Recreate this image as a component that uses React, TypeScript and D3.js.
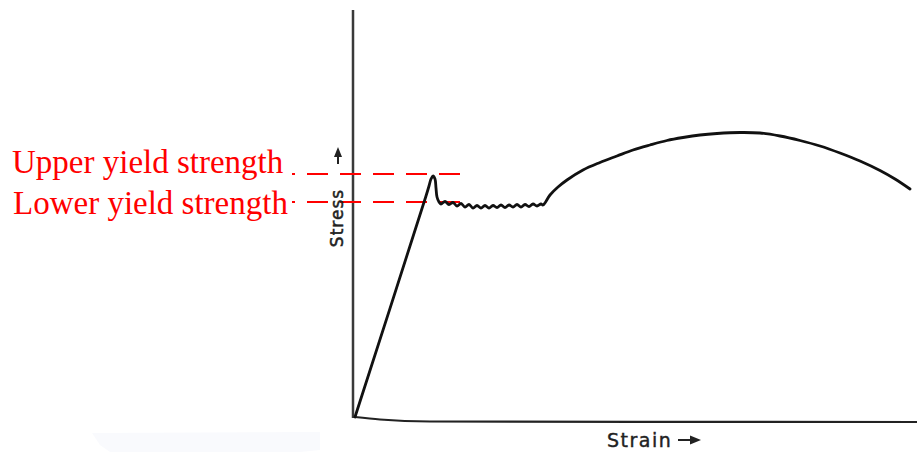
import { useMemo } from "react";
import * as d3 from "d3";

const WIDTH = 917;
const HEIGHT = 452;

// stress-strain curve (strain in %, stress in MPa)
const curveStrain = [
  0, 3.55, 3.7, 3.8, 3.9, 4.0, 4.05, 4.1, 4.2,
  4.3, 4.5, 4.7, 4.9, 5.1, 5.3, 5.5, 5.7, 5.9, 6.1, 6.3, 6.5, 6.7, 6.9,
  7.1, 7.3, 7.5, 7.7, 7.9, 8.1, 8.3, 8.5, 8.7, 8.9, 9.1, 9.3, 9.4,
  9.75, 10.15, 10.6, 11.4, 12.25, 13.1, 13.9, 14.75, 15.6, 16.4, 17.25, 18.1,
  19.25, 20.25, 21.25, 22.25, 23.25, 24.25, 25.25, 26.25, 27.0, 27.75,
];
const curveStress = [
  0, 221, 231, 238, 241, 238, 229, 220, 215,
  213, 215.5, 212.5, 214.5, 211, 213.5, 210, 212.5, 209, 211.5, 209, 211.5, 209, 211.5,
  209.5, 212, 209.5, 212, 210, 212.5, 210, 212.5, 210.5, 213, 211, 213, 212,
  222, 230, 237, 247, 254.5, 261, 267, 272, 276.5, 279.5, 282, 283.5,
  284.5, 284, 281, 276.5, 271, 264, 256, 246.5, 238, 228,
];

// the hand-drawn strain axis sags a little below zero
const baseStrain = [0, 1.25, 3.75, 28.1];
const baseStress = [0, -2.5, -4.5, -5];

const yieldLabels = ["Upper yield strength", "Lower yield strength"];
const yieldValues = [243, 215];
const axisLabels = ["Stress", "Strain"];

export default function App() {
  const x = useMemo(() => d3.scaleLinear().domain([0, 28.1]).range([355, 917]), []);
  const y = useMemo(() => d3.scaleLinear().domain([0, 400]).range([417, 17]), []);

  const curvePath = useMemo(() => {
    const line = d3
      .line<number>()
      .x((_, i) => x(curveStrain[i]))
      .y((d) => y(d))
      .curve(d3.curveCatmullRom.alpha(0.5));
    return line(curveStress) || "";
  }, [x, y]);

  const basePath = useMemo(() => {
    const line = d3
      .line<number>()
      .x((_, i) => x(baseStrain[i]))
      .y((d) => y(d))
      .curve(d3.curveMonotoneX);
    return line(baseStress) || "";
  }, [x, y]);

  const axisX = x(-0.1);

  return (
    <svg
      width={WIDTH}
      height={HEIGHT}
      style={{ position: "absolute", left: 0, top: 0, background: "#fff" }}
    >
      {/* faint scan smudge at bottom left */}
      <path d="M92,433 L320,432 L320,450 L300,452 L110,452 L100,445 Z" fill="#f9fafd" />

      {/* stress axis */}
      <line x1={axisX} x2={axisX} y1={y(407)} y2={y(-1)} stroke="#3a3a3a" strokeWidth={2.5} />
      {/* strain axis */}
      <path d={basePath} fill="none" stroke="#222" strokeWidth={2.2} />

      {/* yield strength guides */}
      {yieldValues.map((v, i) => (
        <line
          key={i}
          x1={x(-3.15)}
          x2={x(5.25)}
          y1={y(v)}
          y2={y(v)}
          stroke="#ff0000"
          strokeWidth={2}
          strokeDasharray="21 12"
          strokeDashoffset={18}
        />
      ))}

      <path
        d={curvePath}
        fill="none"
        stroke="#111"
        strokeWidth={2.8}
        strokeLinejoin="round"
        strokeLinecap="round"
      />

      {yieldLabels.map((t, i) => (
        <text
          key={t}
          x={12 + i}
          y={173 + i * 41}
          fill="#ff0000"
          fontFamily="'Liberation Serif', 'Times New Roman', serif"
          fontSize={33}
        >
          {t}
        </text>
      ))}

      {/* Stress label with arrow */}
      <text
        transform={`translate(343, 218) rotate(-90)`}
        textAnchor="middle"
        fontFamily="'DejaVu Sans', sans-serif"
        fontSize={17}
        letterSpacing={1}
        fill="#222"
        stroke="#222"
        strokeWidth={0.5}
      >
        {axisLabels[0]}
      </text>
      <line x1={338} x2={338} y1={164} y2={154} stroke="#222" strokeWidth={2} />
      <polygon points="338,147 334,157 342,157" fill="#222" />

      {/* Strain label with arrow */}
      <text
        x={607}
        y={447}
        fontFamily="'DejaVu Sans', sans-serif"
        fontSize={19}
        letterSpacing={1.5}
        fill="#222"
        stroke="#222"
        strokeWidth={0.4}
      >
        {axisLabels[1]}
      </text>
      <line x1={678} x2={693} y1={440} y2={440} stroke="#222" strokeWidth={2} />
      <polygon points="701,440 690,435.5 690,444.5" fill="#222" />
    </svg>
  );
}
